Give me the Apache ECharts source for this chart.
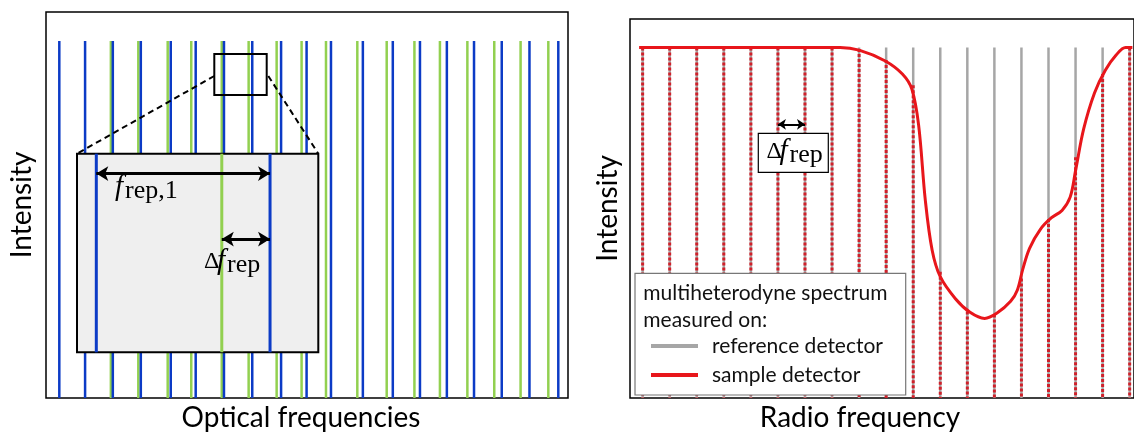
<!DOCTYPE html>
<html>
<head>
<meta charset="utf-8">
<script src="https://cdn.jsdelivr.net/npm/echarts@6/dist/echarts.min.js"></script>
<style>
  html, body { margin: 0; padding: 0; background: #fff; }
  #chart { width: 1134px; height: 437px; }
</style>
</head>
<body>
<div id="chart"></div>
<script>
// optical combs (frequency in units of about one comb spacing)
const blueComb = [0.48, 1.41, 2.41, 3.42, 4.5, 5.4, 6.42, 7.44, 8.48, 9.4, 10.28, 11.43, 12.51, 13.49, 14.46, 15.44, 16.44, 17.44, 18.48]
const greenComb = [2.34, 3.33, 4.39, 5.24, 6.34, 7.31, 8.32, 9.22, 10.1, 11.23, 12.29, 13.29, 14.21, 15.2, 16.17, 17.12, 18.12]
const combLevel = 0.925

// zoomed inset, positions relative to the inset width
const insetBlue = [0.08, 0.8]
const insetGreen = [0.6]

// multiheterodyne spectrum, one line per RF bin
const rfBins = [0, 1, 2, 3, 4, 5, 6, 7, 8, 9, 10, 11, 12, 13, 14, 15, 16, 17, 18]
const refLevel = [0.925, 0.925, 0.925, 0.925, 0.925, 0.925, 0.925, 0.925, 0.925, 0.925, 0.925, 0.925, 0.925, 0.925, 0.925, 0.925, 0.925, 0.925, 0.925]
const sampleLevel = [0.925, 0.925, 0.925, 0.925, 0.925, 0.925, 0.925, 0.925, 0.921, 0.892, 0.825, 0.333, 0.228, 0.22, 0.315, 0.472, 0.635, 0.855, 0.925]

// envelope seen by the sample detector [bin, intensity]
const sampleCurve = [
  [-0.13, 0.925], [7.3, 0.925], [8.0, 0.918], [8.95, 0.89], [9.6, 0.855],
  [9.95, 0.815], [10.2, 0.72], [10.45, 0.52], [10.7, 0.39], [11.0, 0.32],
  [11.56, 0.262], [12.1, 0.226], [12.64, 0.21], [13.1, 0.224], [13.6, 0.255],
  [13.85, 0.285], [14.05, 0.34], [14.3, 0.395], [14.7, 0.445], [15.1, 0.475],
  [15.5, 0.495], [15.8, 0.53], [16.0, 0.6], [16.3, 0.71], [16.7, 0.805],
  [17.1, 0.865], [17.5, 0.905], [17.85, 0.925], [18.1, 0.925],
]

const BLUE = '#0c3bc6'
const GREEN = '#92d050'
const GRAY = '#a6a6a6'
const RED = '#e8161b'
const SANS = 'Lato'
const SERIF = 'Liberation Serif'

// vertical line from 0 up to the value
function stems (color, width, dash) {
  return function (params, api) {
    const top = api.coord([api.value(0), api.value(1)])
    const bottom = api.coord([api.value(0), 0])
    return {
      type: 'line',
      shape: { x1: top[0], y1: top[1], x2: bottom[0], y2: bottom[1] },
      style: { stroke: color, lineWidth: width, lineDash: dash || null },
    }
  }
}

function hiddenAxis (extra) {
  return Object.assign({
    type: 'value',
    axisLine: { show: false },
    axisTick: { show: false },
    axisLabel: { show: false },
    splitLine: { show: false },
  }, extra)
}

// f with a subscript, optionally preceded by a Delta; y is the baseline
function mathLabel (x, base, sub, delta) {
  const children = []
  let cx = 0
  if (delta) {
    children.push({ type: 'text', z: 30, x: 0, y: -8, style: { text: 'Δ', font: '24px ' + SERIF, fill: '#000', verticalAlign: 'middle' } })
    cx = 13
  }
  children.push({ type: 'text', z: 30, x: cx, y: -9, style: { text: 'f', font: 'italic 29px ' + SERIF, fill: '#000', verticalAlign: 'middle' } })
  children.push({ type: 'text', z: 30, x: cx + 10, y: -5, style: { text: sub, font: '26px ' + SERIF, fill: '#000', verticalAlign: 'middle' } })
  return { type: 'group', x: x, y: base, z: 30, children: children }
}

const axisTitle = { fontFamily: SANS, fontSize: 28, color: '#000' }

const chart = echarts.init(document.getElementById('chart'))

chart.setOption({
  animation: false,
  grid: [
    { left: 46, top: 12, width: 522, height: 389, show: true, borderColor: '#000', borderWidth: 1.5 },
    { left: 77, top: 153.7, width: 241.3, height: 198.6, show: false },
    { left: 630, top: 19, width: 506, height: 381, show: true, borderColor: '#000', borderWidth: 1.5 },
  ],
  xAxis: [
    hiddenAxis({ gridIndex: 0, min: 0, max: 18.83, name: 'Optical frequencies', nameLocation: 'middle', nameGap: 6, nameTextStyle: Object.assign({ padding: [0, 12, 0, 0] }, axisTitle) }),
    hiddenAxis({ gridIndex: 1, min: 0, max: 1 }),
    hiddenAxis({ gridIndex: 2, min: -0.467, max: 18.16, name: 'Radio frequency', nameLocation: 'middle', nameGap: 6, nameTextStyle: Object.assign({ padding: [0, 44, 0, 0] }, axisTitle) }),
  ],
  yAxis: [
    hiddenAxis({ gridIndex: 0, min: 0, max: 1, name: 'Intensity', nameLocation: 'middle', nameGap: 10, nameTextStyle: axisTitle }),
    hiddenAxis({ gridIndex: 1, min: 0, max: 1 }),
    hiddenAxis({ gridIndex: 2, min: 0, max: 1, name: 'Intensity', nameLocation: 'middle', nameGap: 8, nameTextStyle: axisTitle }),
  ],
  legend: {
    orient: 'vertical',
    left: 651,
    top: 334,
    padding: 0,
    itemGap: 5,
    itemWidth: 47,
    itemHeight: 4,
    icon: 'rect',
    selectedMode: false,
    z: 6,
    textStyle: { fontFamily: SANS, fontSize: 21, color: '#111', lineHeight: 24, padding: [0, 0, 0, 9] },
    data: [
      { name: 'reference detector', itemStyle: { color: GRAY } },
      { name: 'sample detector', itemStyle: { color: RED } },
    ],
  },
  series: [
    // left panel: two frequency combs
    {
      type: 'custom', xAxisIndex: 0, yAxisIndex: 0, z: 2, silent: true,
      renderItem: stems(GREEN, 2.5),
      data: greenComb.map(f => [f, combLevel]),
    },
    {
      type: 'custom', xAxisIndex: 0, yAxisIndex: 0, z: 2, silent: true,
      renderItem: stems(BLUE, 2.5),
      data: blueComb.map(f => [f, combLevel]),
    },
    // inset background
    {
      type: 'custom', xAxisIndex: 1, yAxisIndex: 1, z: 3, silent: true,
      renderItem: function (params) {
        const r = params.coordSys
        return {
          type: 'rect',
          shape: { x: r.x, y: r.y, width: r.width, height: r.height },
          style: { fill: '#efefef', stroke: '#000', lineWidth: 2 },
        }
      },
      data: [[0, 0]],
    },
    {
      type: 'custom', xAxisIndex: 1, yAxisIndex: 1, z: 4, silent: true,
      renderItem: stems(GREEN, 3),
      data: insetGreen.map(f => [f, 1]),
    },
    {
      type: 'custom', xAxisIndex: 1, yAxisIndex: 1, z: 4, silent: true,
      renderItem: stems(BLUE, 3),
      data: insetBlue.map(f => [f, 1]),
      markLine: {
        silent: true,
        symbol: ['arrow', 'arrow'],
        symbolSize: [11, 12],
        label: { show: false },
        lineStyle: { color: '#000', width: 3, type: 'solid' },
        data: [
          [{ coord: [insetBlue[0], 0.9] }, { coord: [insetBlue[1], 0.9] }],
          [{ coord: [insetGreen[0], 0.57] }, { coord: [insetBlue[1], 0.57] }],
        ],
      },
    },
    // right panel: multiheterodyne lines
    {
      name: 'reference detector',
      type: 'custom', xAxisIndex: 2, yAxisIndex: 2, z: 2, silent: true,
      itemStyle: { color: GRAY },
      renderItem: stems(GRAY, 2.5),
      data: rfBins.map((b, i) => [b, refLevel[i]]),
      markLine: {
        silent: true,
        symbol: ['arrow', 'arrow'],
        symbolSize: [8, 8],
        label: { show: false },
        lineStyle: { color: '#000', width: 2, type: 'solid' },
        data: [[{ coord: [5, 0.722] }, { coord: [6, 0.722] }]],
      },
    },
    {
      name: 'sample lines',
      type: 'custom', xAxisIndex: 2, yAxisIndex: 2, z: 2, silent: true,
      renderItem: stems('#d0202a', 3, [3, 2]),
      data: rfBins.map((b, i) => [b, sampleLevel[i]]),
    },
    {
      name: 'sample detector',
      type: 'line', xAxisIndex: 2, yAxisIndex: 2, z: 3, silent: true,
      smooth: 0.35,
      showSymbol: false,
      color: RED,
      lineStyle: { color: RED, width: 3 },
      data: sampleCurve,
    },
  ],
  graphic: { elements: [
    // zoom box and its connectors
    { type: 'rect', z: 20, silent: true, shape: { x: 214.3, y: 54, width: 52.4, height: 41 }, style: { fill: 'none', stroke: '#000', lineWidth: 2 } },
    { type: 'line', z: 20, silent: true, shape: { x1: 214.3, y1: 76, x2: 77, y2: 153.7 }, style: { stroke: '#000', lineWidth: 2, lineDash: [6, 4] } },
    { type: 'line', z: 20, silent: true, shape: { x1: 268.3, y1: 76, x2: 318.3, y2: 153.7 }, style: { stroke: '#000', lineWidth: 2, lineDash: [6, 4] } },
    mathLabel(115, 196, 'rep,1', false),
    mathLabel(204, 270, 'rep', true),
    // Δf_rep box on the right
    { type: 'rect', z: 20, silent: true, shape: { x: 758.3, y: 133.3, width: 70, height: 39 }, style: { fill: '#fff', stroke: '#000', lineWidth: 1.2 } },
    mathLabel(766.5, 160, 'rep', true),
    // legend frame and heading
    { type: 'rect', z: 5, silent: true, shape: { x: 635, y: 273.3, width: 270.7, height: 121.7 }, style: { fill: '#fff', stroke: '#777', lineWidth: 1.2 } },
    { type: 'text', z: 6, silent: true, x: 643.3, y: 306.7, style: { text: 'multiheterodyne spectrum\nmeasured on:', font: '21px ' + SANS, fill: '#111', lineHeight: 27, verticalAlign: 'middle' } },
  ] },
})
</script>
</body>
</html>
